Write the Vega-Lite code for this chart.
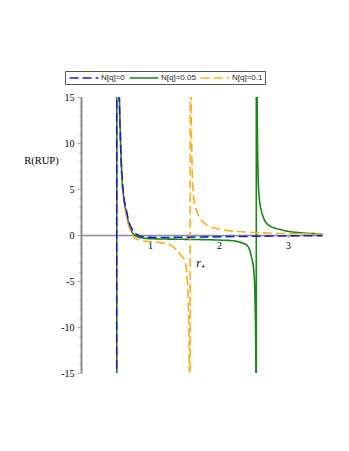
{
  "$schema": "https://vega.github.io/schema/vega-lite/v6.json",
  "autosize": {"type": "none"},
  "padding": {"left": 81, "top": 97, "right": 26, "bottom": 78},
  "width": 241.5,
  "height": 276,
  "background": "white",
  "config": {"view": {"stroke": null}},
  "data": {"values": [
    {"s": "N[q]=0.05", "r": 0.518, "R": -40},
    {"s": "N[q]=0.05", "r": 0.520, "R": 40},
    {"s": "N[q]=0.05", "r": 0.533, "R": 29},
    {"s": "N[q]=0.05", "r": 0.548, "R": 18},
    {"s": "N[q]=0.05", "r": 0.563, "R": 13},
    {"s": "N[q]=0.05", "r": 0.59, "R": 6.7},
    {"s": "N[q]=0.05", "r": 0.62, "R": 4.0},
    {"s": "N[q]=0.05", "r": 0.66, "R": 2.3},
    {"s": "N[q]=0.05", "r": 0.7, "R": 1.0},
    {"s": "N[q]=0.05", "r": 0.75, "R": 0.2},
    {"s": "N[q]=0.05", "r": 0.8, "R": -0.12},
    {"s": "N[q]=0.05", "r": 0.9, "R": -0.33},
    {"s": "N[q]=0.05", "r": 1.0, "R": -0.4},
    {"s": "N[q]=0.05", "r": 1.5, "R": -0.47},
    {"s": "N[q]=0.05", "r": 2.0, "R": -0.55},
    {"s": "N[q]=0.05", "r": 2.2, "R": -0.62},
    {"s": "N[q]=0.05", "r": 2.3, "R": -0.78},
    {"s": "N[q]=0.05", "r": 2.4, "R": -1.09},
    {"s": "N[q]=0.05", "r": 2.47, "R": -2.36},
    {"s": "N[q]=0.05", "r": 2.507, "R": -4.1},
    {"s": "N[q]=0.05", "r": 2.525, "R": -8},
    {"s": "N[q]=0.05", "r": 2.535, "R": -15},
    {"s": "N[q]=0.05", "r": 2.539, "R": -40},
    {"s": "N[q]=0.05", "r": 2.542, "R": 40},
    {"s": "N[q]=0.05", "r": 2.548, "R": 25},
    {"s": "N[q]=0.05", "r": 2.556, "R": 12},
    {"s": "N[q]=0.05", "r": 2.565, "R": 7},
    {"s": "N[q]=0.05", "r": 2.58, "R": 4.35},
    {"s": "N[q]=0.05", "r": 2.619, "R": 2.5},
    {"s": "N[q]=0.05", "r": 2.714, "R": 1.1},
    {"s": "N[q]=0.05", "r": 2.909, "R": 0.55},
    {"s": "N[q]=0.05", "r": 3.17, "R": 0.25},
    {"s": "N[q]=0.05", "r": 3.5, "R": 0.12},
    {"s": "N[q]=0.1", "r": 0.519, "R": -40},
    {"s": "N[q]=0.1", "r": 0.521, "R": 40},
    {"s": "N[q]=0.1", "r": 0.535, "R": 28},
    {"s": "N[q]=0.1", "r": 0.55, "R": 18},
    {"s": "N[q]=0.1", "r": 0.565, "R": 13},
    {"s": "N[q]=0.1", "r": 0.59, "R": 6.5},
    {"s": "N[q]=0.1", "r": 0.62, "R": 3.8},
    {"s": "N[q]=0.1", "r": 0.66, "R": 2.0},
    {"s": "N[q]=0.1", "r": 0.7, "R": 0.8},
    {"s": "N[q]=0.1", "r": 0.75, "R": -0.1},
    {"s": "N[q]=0.1", "r": 0.8, "R": -0.4},
    {"s": "N[q]=0.1", "r": 0.9, "R": -0.62},
    {"s": "N[q]=0.1", "r": 1.0, "R": -0.72},
    {"s": "N[q]=0.1", "r": 1.1, "R": -0.78},
    {"s": "N[q]=0.1", "r": 1.217, "R": -0.9},
    {"s": "N[q]=0.1", "r": 1.3, "R": -1.1},
    {"s": "N[q]=0.1", "r": 1.387, "R": -1.63},
    {"s": "N[q]=0.1", "r": 1.45, "R": -2.2},
    {"s": "N[q]=0.1", "r": 1.507, "R": -2.9},
    {"s": "N[q]=0.1", "r": 1.54, "R": -4.9},
    {"s": "N[q]=0.1", "r": 1.56, "R": -9},
    {"s": "N[q]=0.1", "r": 1.57, "R": -15},
    {"s": "N[q]=0.1", "r": 1.58, "R": -40},
    {"s": "N[q]=0.1", "r": 1.585, "R": 40},
    {"s": "N[q]=0.1", "r": 1.6, "R": 12},
    {"s": "N[q]=0.1", "r": 1.628, "R": 4.35},
    {"s": "N[q]=0.1", "r": 1.66, "R": 3.0},
    {"s": "N[q]=0.1", "r": 1.7, "R": 2.2},
    {"s": "N[q]=0.1", "r": 1.82, "R": 1.1},
    {"s": "N[q]=0.1", "r": 2.0, "R": 0.65},
    {"s": "N[q]=0.1", "r": 2.11, "R": 0.5},
    {"s": "N[q]=0.1", "r": 2.5, "R": 0.28},
    {"s": "N[q]=0.1", "r": 3.0, "R": 0.15},
    {"s": "N[q]=0.1", "r": 3.5, "R": 0.1},
    {"s": "N[q]=0", "r": 0.517, "R": -40},
    {"s": "N[q]=0", "r": 0.519, "R": 40},
    {"s": "N[q]=0", "r": 0.53, "R": 30},
    {"s": "N[q]=0", "r": 0.545, "R": 18},
    {"s": "N[q]=0", "r": 0.56, "R": 13.5},
    {"s": "N[q]=0", "r": 0.575, "R": 9.5},
    {"s": "N[q]=0", "r": 0.59, "R": 6.9},
    {"s": "N[q]=0", "r": 0.62, "R": 4.2},
    {"s": "N[q]=0", "r": 0.66, "R": 2.6},
    {"s": "N[q]=0", "r": 0.7, "R": 1.3},
    {"s": "N[q]=0", "r": 0.75, "R": 0.5},
    {"s": "N[q]=0", "r": 0.8, "R": 0.1},
    {"s": "N[q]=0", "r": 0.85, "R": -0.1},
    {"s": "N[q]=0", "r": 0.9, "R": -0.2},
    {"s": "N[q]=0", "r": 1.0, "R": -0.26},
    {"s": "N[q]=0", "r": 1.2, "R": -0.27},
    {"s": "N[q]=0", "r": 1.5, "R": -0.24},
    {"s": "N[q]=0", "r": 2.0, "R": -0.19},
    {"s": "N[q]=0", "r": 2.5, "R": -0.14},
    {"s": "N[q]=0", "r": 3.0, "R": -0.1},
    {"s": "N[q]=0", "r": 3.5, "R": -0.07}
  ]},
  "mark": {"type": "line", "clip": true, "strokeWidth": 1.6, "interpolate": "monotone"},
  "encoding": {
    "x": {
      "field": "r", "type": "quantitative",
      "scale": {"domain": [0, 3.5], "nice": false, "zero": false},
      "axis": {
        "orient": "bottom", "offset": -138, "values": [1, 2, 3],
        "grid": false, "domainColor": "#8c8c8c", "domainWidth": 1.5,
        "tickColor": "#8c8c8c", "tickSize": 2, "labelPadding": 3,
        "labelFont": "Liberation Serif", "labelFontSize": 10, "labelColor": "black",
        "title": "r₊", "titleFont": "Liberation Serif", "titleFontStyle": "italic",
        "titleFontWeight": "normal", "titleFontSize": 12, "titleColor": "black",
        "titleX": 119, "titleY": 27, "titleAlign": "center", "titleBaseline": "middle"
      }
    },
    "y": {
      "field": "R", "type": "quantitative",
      "scale": {"domain": [-15, 15], "nice": false, "zero": false},
      "axis": {
        "orient": "left", "grid": false,
        "values": [-15,-14,-13,-12,-11,-10,-9,-8,-7,-6,-5,-4,-3,-2,-1,0,1,2,3,4,5,6,7,8,9,10,11,12,13,14,15],
        "labelExpr": "datum.value % 5 === 0 ? (datum.value < 0 ? '-' + abs(datum.value) : datum.label) : ''",
        "tickSize": {"condition": {"test": "datum.value % 5 === 0", "value": 4}, "value": 2},
        "tickColor": "#b0b0b0", "domainColor": "#8c8c8c", "domainWidth": 2,
        "labelPadding": 3, "labelFont": "Liberation Serif", "labelFontSize": 10, "labelColor": "black",
        "title": "R(RUP)", "titleFont": "Liberation Serif", "titleFontWeight": "normal",
        "titleFontSize": 10.5, "titleColor": "black", "titleAngle": 0,
        "titleX": -40, "titleY": 63, "titleAlign": "center", "titleBaseline": "middle"
      }
    },
    "color": {
      "field": "s", "type": "nominal",
      "scale": {"domain": ["N[q]=0", "N[q]=0.05", "N[q]=0.1"], "range": ["#1a1adb", "#148a14", "#ffad1a"]},
      "legend": {
        "title": null, "orient": "none", "legendX": -16, "legendY": -26,
        "direction": "horizontal", "padding": 2, "strokeColor": "#555", "fillColor": "white",
        "symbolType": "M-3.6,0H3.6", "symbolSize": 64, "symbolStrokeWidth": 1.5,
        "symbolOffset": 12, "labelOffset": 12,
        "labelFont": "Liberation Sans", "labelFontSize": 8, "labelColor": "#222",
        "columnPadding": 1
      }
    },
    "strokeDash": {
      "field": "s", "type": "nominal",
      "scale": {"domain": ["N[q]=0", "N[q]=0.05", "N[q]=0.1"], "range": [[9, 4], [1, 0], [9, 4]]},
      "legend": {
        "title": null, "orient": "none", "legendX": -16, "legendY": -26,
        "direction": "horizontal", "padding": 2, "strokeColor": "#555", "fillColor": "white",
        "symbolType": "M-3.6,0H3.6", "symbolSize": 64, "symbolStrokeWidth": 1.5,
        "symbolOffset": 12, "labelOffset": 12,
        "labelFont": "Liberation Sans", "labelFontSize": 8, "labelColor": "#222",
        "columnPadding": 1
      }
    }
  }
}
